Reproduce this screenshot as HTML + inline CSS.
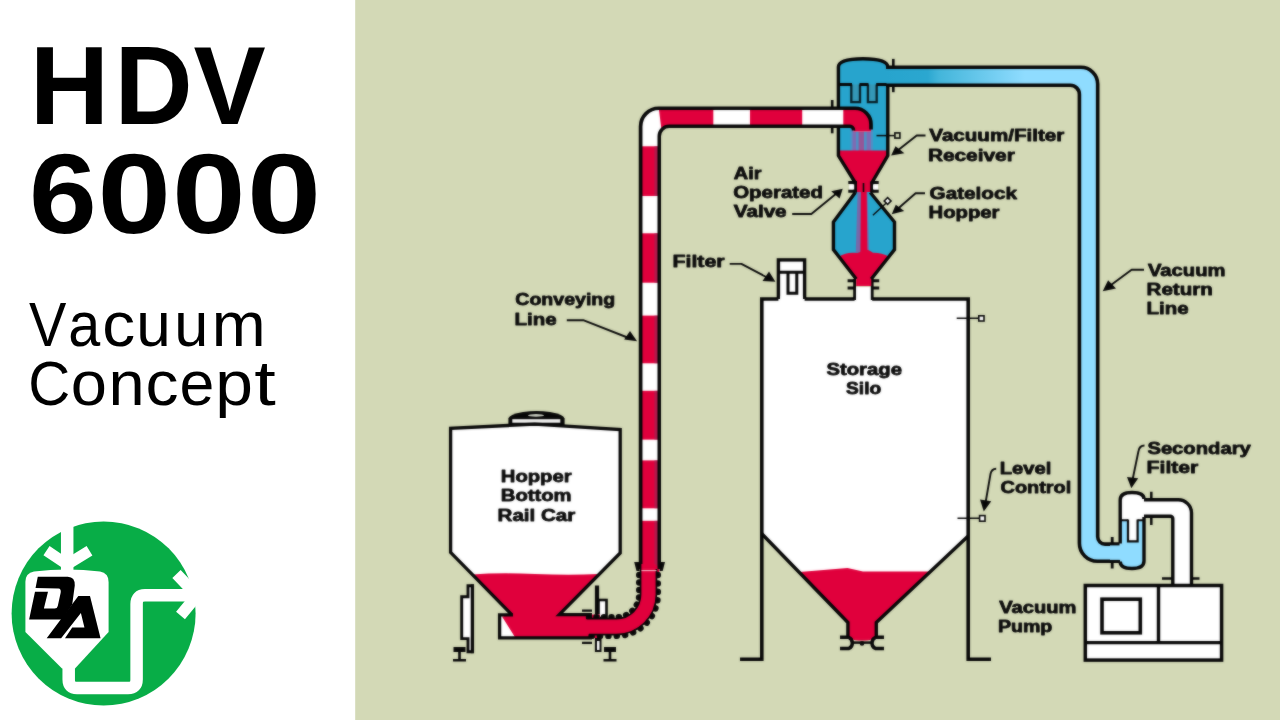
<!DOCTYPE html>
<html><head><meta charset="utf-8"><title>HDV 6000 Vacuum Concept</title>
<style>
html,body{margin:0;padding:0;background:#d3d9b6;overflow:hidden}
svg{display:block}
text{font-family:"Liberation Sans",sans-serif}
.lb{font-weight:bold;font-size:17.2px;fill:#0b0b0b;stroke:#0b0b0b;stroke-width:.8px;stroke-linejoin:round}
.k{stroke:#060606;fill:none}
</style></head><body>
<svg width="1280" height="720" viewBox="0 0 1280 720">
<defs>
<linearGradient id="rg" gradientUnits="userSpaceOnUse" x1="886" y1="0" x2="1025" y2="0">
<stop offset="0" stop-color="#27a4cd"/><stop offset=".3" stop-color="#2ba7d0"/><stop offset=".38" stop-color="#43b5da"/><stop offset="1" stop-color="#8fdcff"/>
</linearGradient>
<filter id="soft" filterUnits="userSpaceOnUse" x="356" y="0" width="924" height="720" color-interpolation-filters="sRGB"><feGaussianBlur stdDeviation="0.8" result="b"/><feComposite in="SourceGraphic" in2="b" operator="arithmetic" k1="0" k2="0.5" k3="0.5" k4="0"/></filter>
</defs>
<rect x="0" y="0" width="1280" height="720" fill="#d3d9b6"/>
<rect x="0" y="0" width="355.2" height="720" fill="#ffffff"/>

<!-- TITLE -->
<g id="title" fill="#000">
<g font-weight="bold" font-size="111.2">
<text transform="translate(29.75,123.9) scale(.989,1)">H</text>
<text transform="translate(114.46,123.9) scale(.974,1)">D</text>
<text transform="translate(193.5,123.9) scale(.974,1)">V</text>
</g>
<g font-weight="bold" font-size="112.25">
<text transform="translate(28.9,233.4) scale(1.086,1)">6</text>
<text transform="translate(97.5,233.4) scale(1.178,1)">0</text>
<text transform="translate(172,233.4) scale(1.18,1)">0</text>
<text transform="translate(247,233.4) scale(1.187,1)">0</text>
</g>
<g font-size="63.5">
<text transform="translate(29.02,346.1) scale(0.882,1)">V</text>
<text transform="translate(68.31,346.1) scale(0.905,1)">a</text>
<text transform="translate(102.14,346.1) scale(1.036,1)">c</text>
<text transform="translate(136.16,346.1) scale(0.978,1)">u</text>
<text transform="translate(174.32,346.1) scale(0.963,1)">u</text>
<text transform="translate(211.79,346.1) scale(1.019,1)">m</text>
<text transform="translate(28.20,405.2) scale(0.915,1)">C</text>
<text transform="translate(70.70,405.2) scale(1.024,1)">o</text>
<text transform="translate(108.58,405.2) scale(1.023,1)">n</text>
<text transform="translate(145.53,405.2) scale(1.040,1)">c</text>
<text transform="translate(179.58,405.2) scale(0.986,1)">e</text>
<text transform="translate(215.19,405.2) scale(1.067,1)">p</text>
<text transform="translate(254.3,405.2) scale(1.22,1)">t</text>
</g>
</g>

<!-- LOGO -->
<g id="logo">
<circle cx="103.6" cy="613.4" r="92" fill="#08ad47"/>
<g fill="none" stroke="#fff">
<path d="M67.2,510 V570" stroke-width="12.5"/>
<path d="M46.5,550.7 L67.2,564.5 L89.5,550.7" stroke-width="11" stroke-linejoin="miter"/>
<path d="M68.7,660 V679.5 Q68.7,688 77,688 H128 Q136.6,688 136.6,679.5 V604 Q136.6,595.3 145,595.3 H196" stroke-width="12.5"/>
<path d="M176.5,574 L197,595.5 L180.5,615.5" stroke-width="11.5"/>
</g>
<path d="M25.4,582 Q25.4,573 34,571.5 Q67,567.5 100,571.5 Q108.6,573 108.6,582 V632 L75,668.5 H62 L25.4,632 Z" fill="#fff"/>
<g transform="translate(20,565) scale(0.11111)" fill="#000">
<path d="M160,105 L430,105 Q497,107 493,185 L470,355 L380,490 L82,490 L135,240 L252,240 L215,392 L312,392 Q335,390 340,368 L366,250 Q372,214 346,212 L140,207 Z"/>
<path d="M240,660 L525,280 L630,280 L725,660 L405,660 L470,562 L580,562 L548,432 L370,660 Z"/>
</g>
</g>

<!-- DIAGRAM -->
<g id="diagram" filter="url(#soft)">
<!-- ===== RAIL CAR ===== -->
<g id="railcar">
<!-- stands -->
<g class="k" stroke-width="2.6">
<path d="M472.4,585.7 H468 V596.8 H461.7 V638.6 H468 V651.8 H472.4 Z" fill="#fff" stroke-width="2.9" stroke-linejoin="miter"/>
<path d="M472.4,584.3 V653.2" stroke-width="3.3"/>
<path d="M453.5,649.5 H465.5" stroke-width="5"/>
<path d="M459.5,650 V660 M453,660.3 H466" stroke-width="2.6"/>
</g>
<g class="k" stroke-width="2.6">
<path d="M597,585.5 V652" stroke-width="4.2"/>
<rect x="598.5" y="600" width="8" height="18" fill="#fff"/>
<path d="M582,610.7 H592 M582,642.8 H592" stroke-width="2.2"/>
<rect x="596" y="640" width="4.5" height="11" fill="#fff" stroke-width="2"/>
<path d="M604,649.5 H616" stroke-width="5"/>
<path d="M610,650 V660 M603.5,660.3 H616.5" stroke-width="2.6"/>
</g>
<!-- hatch -->
<path d="M508.4,427 V418.6 Q509.5,414.2 523,412 Q536.5,410 550,412 Q563.5,414.2 564.6,418.6 V427 Z" fill="#060606"/>
<rect x="512.3" y="419.2" width="48" height="3.5" fill="#f4f4f2"/>
<ellipse cx="536" cy="415.4" rx="8" ry="1.3" fill="#c9ccc0"/>
<!-- body -->
<path d="M450.6,428.3 L534.7,424.2 L620.2,429.5 V553 L559.3,614.6 H600 V638 H499.6 V614.6 H511.7 L450.6,552.4 Z" fill="#fff"/>
<path d="M472,574.5 Q500,572.5 535,574 T598.5,574 L559.3,614.6 H600 V638 H515.5 L502,616.5 L511.7,614.6 Z" fill="#e0003c"/>
<path class="k" stroke-width="3.3" stroke-linejoin="miter" d="M511.7,614.6 L450.6,552.4 V428.3 L534.7,424.2 L620.2,429.5 V553 L559.3,614.6 H592"/>
<path class="k" stroke-width="3.3" d="M513,614.8 H499.6 V637.9 H592"/>
</g>
<!-- ===== SILO ===== -->
<g id="silo">
<!-- filter box -->
<rect x="778.4" y="259.9" width="26.2" height="42" fill="#fff" stroke="#060606" stroke-width="3.4"/>
<path class="k" stroke-width="3" d="M780,272.2 H803 M788,272 V293.3 H796.8 V272"/>
<!-- body -->
<path d="M761.8,299 H968.2 V536 L876.3,622.5 V640 H847.9 V622.5 L761.8,533.7 Z" fill="#fff"/>
<rect x="780.2" y="296" width="22.6" height="6" fill="#fff"/>
<!-- inlet neck -->
<rect x="855" y="287" width="17" height="15" fill="#fff"/>
<!-- red -->
<path d="M799.5,572 L847.5,568 L863,571.5 L930.5,571.5 L876.3,622.5 V634 Q876.3,640.6 862,640.6 Q847.9,640.6 847.9,634 V622.5 Z" fill="#e0003c"/>
<!-- outline -->
<path class="k" stroke-width="3.6" stroke-linejoin="miter" d="M740,659.3 H761.8 V299 H778.4 M804.6,299 H854.6 M872.2,299 H968.2 V659.3 H991"/>
<path class="k" stroke-width="3.4" stroke-linejoin="miter" d="M761.8,533.7 L847.9,622.5 V637 M968.2,536 L876.3,622.5 V637"/>
<path class="k" stroke-width="2.8" d="M854.6,279 V300 M872.2,279 V300"/>
<path class="k" stroke-width="3" d="M847.6,280.8 H856 M871,280.8 H879.2 M847.6,288 H856 M871,288 H879.2"/>
<!-- bottom valve -->
<path class="k" stroke-width="3.5" d="M840,637.3 H848.5 C853.5,639 853.5,646.8 849,648.4 H840 M884,637.3 H875.8 C870.8,639 870.8,646.8 875.3,648.4 H884"/>
<path class="k" stroke-width="2.5" d="M853,642.6 H871.5"/>
<circle cx="862" cy="643.4" r="2.3" fill="#060606"/>
<!-- level probes -->
<path class="k" stroke-width="1.5" d="M956.7,318.3 H978 M957.5,518.3 H979"/>
<rect x="978.8" y="315.8" width="5.2" height="5.2" fill="#fff" stroke="#060606" stroke-width="1.6"/>
<rect x="979.6" y="515.6" width="5.4" height="5.6" fill="#fff" stroke="#060606" stroke-width="1.6"/>
</g>
<!-- ===== RECEIVER ===== -->
<g id="receiver">
<path d="M838.4,67 Q838.4,59 863,58.8 Q887.8,59 887.8,67 V155.6 L872.3,182 V192 H854.8 V182 L838.4,155.6 Z" fill="#27a4cd"/>
<!-- filter tubes -->
<path d="M851.3,84.5 V102.2 H860 V84.5 M867.9,84.5 V102.2 H876.7 V84.5" fill="#3497b6" stroke="#062029" stroke-width="2.3"/>
<path class="k" stroke-width="2.8" d="M839,84.5 H852 M859.5,84.5 H868.5 M876.2,84.5 H888"/>
<!-- purple stream -->
<rect x="850.5" y="129" width="22.5" height="22" fill="#6f7fc0" opacity=".55"/>
<g opacity=".8">
<rect x="852.5" y="130" width="3.6" height="21" fill="#8a62ae"/>
<rect x="858.6" y="128" width="5.4" height="23" fill="#a8488c"/>
<rect x="866.6" y="130" width="4.2" height="21" fill="#8a62ae"/>
</g>
<!-- red pile -->
<path d="M839.5,150.5 H886.8 V155.6 L872.3,182 V192 H854.8 V182 L839.5,155.6 Z" fill="#e0003c"/>
<!-- outline -->
<path class="k" stroke-width="3.4" stroke-linejoin="round" d="M887.8,67 Q887.8,59 863,58.8 Q838.4,59 838.4,67 V155.6 L854.8,182 V192 M887.8,86 V155.6 L872.3,182 V192"/>
<!-- probe -->
<path class="k" stroke-width="1.5" d="M876.5,135.6 H894.5"/>
<rect x="894.9" y="132.9" width="5" height="5.2" fill="#d3d9b6" stroke="#060606" stroke-width="1.6"/>
</g>
<!-- ===== GATELOCK ===== -->
<g id="gatelock">
<path d="M855.3,192 L833.4,222 V249.6 L856.2,279 H871.3 L894.5,249.6 V222 L870.3,192 Z" fill="#27a4cd"/>
<!-- stream -->
<path d="M857.6,192 L855.8,252 H869 L867.5,192 Z" fill="#8a5aa0" opacity=".8"/>
<path d="M861,186 L860.4,252 H867.4 L866.6,186 Z" fill="#e0003c"/>
<path d="M838.5,257 Q846,252.5 853,252.8 T862.8,250.5 T873,252.8 Q881,252.5 889.5,257 L871.3,279 V286 H856.2 V279 Z" fill="#e0003c"/>
<!-- probe -->
<path class="k" stroke-width="1.4" d="M872.9,215.2 L886,203.2"/>
<rect x="-2.4" y="-2.4" width="4.8" height="4.8" transform="translate(887.6,201) rotate(45)" fill="#fff" stroke="#060606" stroke-width="1.6"/>
<path class="k" stroke-width="3.4" stroke-linejoin="miter" d="M855.3,192.5 L833.4,222 V249.6 L856.2,279 M870.3,192.5 L894.5,222 V249.6 L871.3,279"/>
<!-- valve flanges -->
<rect x="849.3" y="184.3" width="5.2" height="5.4" fill="#fff"/><rect x="873" y="184.3" width="5" height="5.4" fill="#fff"/>
<path class="k" stroke-width="3" d="M848.3,182.6 H857 M870.6,182.6 H878.7 M848.3,191.2 H857 M870.6,191.2 H878.7"/>
<path class="k" stroke-width="2.4" d="M855.6,182 V192 M871.6,182 V192"/>
<path class="k" stroke-width="1.6" d="M863.5,183 V192"/>
</g>
<!-- ===== CONVEYING LINE ===== -->
<g id="convey">
<clipPath id="ccp"><path d="M640.6,572 V126.45 A18.2,18.2 0 0 1 658.8,108.25 H855 A16,16 0 0 1 871,124.25 V131.5 H853.5 V129.85 A3.5,3.5 0 0 0 850,126.35 H669.25 A10,10 0 0 0 659.25,136.35 V572 Z"/></clipPath>
<path d="M832.2,100 V133.3" stroke="#060606" stroke-width="2.6" fill="none"/>
<g clip-path="url(#ccp)">
<rect x="636" y="100" width="240" height="475" fill="#fff"/>
<g fill="#e0003c">
<rect x="636" y="146.3" width="30" height="49.7"/>
<rect x="636" y="233.3" width="30" height="49.4"/>
<rect x="636" y="315.6" width="30" height="47.7"/>
<rect x="636" y="390.8" width="30" height="48.8"/>
<rect x="636" y="460.4" width="30" height="47.9"/>
<rect x="636" y="520.8" width="30" height="55"/>
<polygon points="658.2,104 713.3,104 713.3,132 661.8,132"/>
<rect x="750" y="104" width="52.2" height="28"/>
<rect x="843.3" y="104" width="40" height="30"/>
</g>
<g fill="#9c2452" fill-opacity=".7">
<rect x="654.4" y="146.3" width="4" height="49.7"/>
<rect x="654.4" y="233.3" width="4" height="49.4"/>
<rect x="654.4" y="315.6" width="4" height="47.7"/>
<rect x="654.4" y="390.8" width="4" height="48.8"/>
<rect x="654.4" y="460.4" width="4" height="47.9"/>
<rect x="654.4" y="520.8" width="4" height="45"/>
</g>
</g>
<path d="M640.6,569 V126.45 A18.2,18.2 0 0 1 658.8,108.25 H855 A16,16 0 0 1 871,124.25 V129.5" fill="none" stroke="#060606" stroke-width="3.7"/>
<path d="M659.25,569 V136.35 A10,10 0 0 1 669.25,126.35 H850 A3.5,3.5 0 0 1 853.5,129.85 V130.5" fill="none" stroke="#060606" stroke-width="3.5"/>
</g>
<!-- ===== RETURN LINE ===== -->
<g id="return" fill="none">
<path d="M893.3,58.9 V92.2" stroke="#060606" stroke-width="2.6"/>
<path d="M886.5,67.2 H1080.8 A16.9,16.9 0 0 1 1097.7,84.1 V536.8 A7.3,7.3 0 0 0 1105,544.1 H1123 V561.3 H1097.4 A18,18 0 0 1 1079.4,543.3 V94.4 A9.2,9.2 0 0 0 1070.2,85.2 H886.5 Z" fill="url(#rg)"/>
<path d="M886,67.2 H1080.8 A16.9,16.9 0 0 1 1097.7,84.1 V536.8 A7.3,7.3 0 0 0 1105,544.1 H1119.5" stroke="#060606" stroke-width="3.6"/>
<path d="M886,85.2 H1070.2 A9.2,9.2 0 0 1 1079.4,94.4 V543.3 A18,18 0 0 0 1097.4,561.3 H1121.5" stroke="#060606" stroke-width="3.6"/>
<path d="M1112.2,537 V543 M1112.2,562.5 V568.4" stroke="#060606" stroke-width="2.8"/>
</g>
<!-- ===== SECONDARY FILTER ===== -->
<g id="secfilter">
<path d="M1120.2,500 Q1120.2,492.5 1132,492.5 Q1144,492.5 1144,500 V561 Q1144,568.5 1132,568.5 Q1120.2,568.5 1120.2,561 Z" fill="#fff"/>
<path d="M1120.2,521 H1144 V561 Q1144,568.5 1132,568.5 Q1120.2,568.5 1120.2,561 Z" fill="#8fdcff"/>
<rect x="1110" y="545.4" width="14" height="14.4" fill="#8fdcff"/>
<path d="M1128,519.5 V541.3 H1137.6 V519.5" fill="#fff" stroke="#060606" stroke-width="2.2"/>
<path class="k" stroke-width="2" d="M1121,520.3 H1128 M1137.6,520.3 H1143"/>
<path class="k" stroke-width="3.4" d="M1120.2,543.5 V500 Q1120.2,492.5 1132,492.5 Q1144,492.5 1144,499 M1144,517 V561 Q1144,568.5 1132,568.5 Q1120.2,568.5 1120.2,561.5"/>
<!-- white pipe to pump -->
<path d="M1151.3,491.7 V525 M1162,578.4 H1199.5" class="k" stroke-width="2.5"/>
<path d="M1140,499.7 H1178.2 A13.3,13.3 0 0 1 1191.5,513 V584 H1172.8 V518.7 A2.5,2.5 0 0 0 1170.3,516.2 H1140 Z" fill="#fff"/>
<path d="M1144,499.7 H1178.2 A13.3,13.3 0 0 1 1191.5,513 V585" fill="none" stroke="#060606" stroke-width="3.4"/>
<path d="M1144,516.2 H1170.3 A2.5,2.5 0 0 1 1172.8,518.7 V585" fill="none" stroke="#060606" stroke-width="3.4"/>
</g>
<!-- ===== PUMP ===== -->
<g id="pump">
<rect x="1085.3" y="585.5" width="136.3" height="74.6" fill="#fff" stroke="#060606" stroke-width="3.5"/>
<path class="k" stroke-width="3.4" d="M1158.5,585.5 V642.6 M1085.3,642.6 H1221.6"/>
<rect x="1102" y="599.2" width="38.3" height="33.6" fill="#fff" stroke="#060606" stroke-width="3.6"/>
</g>
<!-- ===== HOSE ===== -->
<g id="hose" fill="none">
<path d="M634.2,562 H639.6 V571 L636.5,571 Z M665,562 H659.6 V571 L662.7,571 Z" fill="#060606"/>
<path d="M639.2,575 V594.6 A22.7,22.7 0 0 1 616.5,617.3 H589" stroke="#060606" stroke-width="6.4" stroke-linecap="round" stroke-dasharray="0.1 7.4"/>
<path d="M657.8,575 V594.6 A41.3,41.3 0 0 1 616.5,635.9 H589" stroke="#060606" stroke-width="6.4" stroke-linecap="round" stroke-dasharray="0.1 8.3"/>
<path d="M648.5,569 V594.6 A32,32 0 0 1 616.5,626.6 H589" stroke="#060606" stroke-width="17.6"/>
<path d="M648.5,564 V594.6 A32,32 0 0 1 616.5,626.6 H586" stroke="#e0003c" stroke-width="14.2"/>
<path d="M641.5,570.6 H656.5" stroke="#f7b9c6" stroke-width="1.1"/>
</g>
<!-- ===== LABELS ===== -->
<g id="labels">
<text class="lb" x="500.8" y="481.7" textLength="70.8" lengthAdjust="spacingAndGlyphs">Hopper</text>
<text class="lb" x="500.8" y="501.2" textLength="70.8" lengthAdjust="spacingAndGlyphs">Bottom</text>
<text class="lb" x="497.6" y="520.7" textLength="77.7" lengthAdjust="spacingAndGlyphs">Rail Car</text>
<text class="lb" x="826.5" y="374.5" textLength="75.4" lengthAdjust="spacingAndGlyphs">Storage</text>
<text class="lb" x="846.1" y="393.9" textLength="35.1" lengthAdjust="spacingAndGlyphs">Silo</text>
<text class="lb" x="515.3" y="305.3" textLength="99.9" lengthAdjust="spacingAndGlyphs">Conveying</text>
<text class="lb" x="514.5" y="324.5" textLength="42.1" lengthAdjust="spacingAndGlyphs">Line</text>
<text class="lb" x="672.5" y="267.1" textLength="52.1" lengthAdjust="spacingAndGlyphs">Filter</text>
<text class="lb" x="733.8" y="178.5" textLength="27.6" lengthAdjust="spacingAndGlyphs">Air</text>
<text class="lb" x="733.2" y="197.9" textLength="89.8" lengthAdjust="spacingAndGlyphs">Operated</text>
<text class="lb" x="733.8" y="217.2" textLength="52.8" lengthAdjust="spacingAndGlyphs">Valve</text>
<text class="lb" x="929.3" y="141.2" textLength="135.0" lengthAdjust="spacingAndGlyphs">Vacuum/Filter</text>
<text class="lb" x="927.9" y="160.5" textLength="86.9" lengthAdjust="spacingAndGlyphs">Receiver</text>
<text class="lb" x="929.6" y="199.4" textLength="87.4" lengthAdjust="spacingAndGlyphs">Gatelock</text>
<text class="lb" x="928.5" y="218.1" textLength="71" lengthAdjust="spacingAndGlyphs">Hopper</text>
<text class="lb" x="1148.0" y="276.0" textLength="77.5" lengthAdjust="spacingAndGlyphs">Vacuum</text>
<text class="lb" x="1146.6" y="295.1" textLength="66.2" lengthAdjust="spacingAndGlyphs">Return</text>
<text class="lb" x="1146.6" y="314.3" textLength="42.0" lengthAdjust="spacingAndGlyphs">Line</text>
<text class="lb" x="1147.4" y="453.8" textLength="103.4" lengthAdjust="spacingAndGlyphs">Secondary</text>
<text class="lb" x="1146.6" y="473.1" textLength="51.7" lengthAdjust="spacingAndGlyphs">Filter</text>
<text class="lb" x="999.8" y="473.8" textLength="51.5" lengthAdjust="spacingAndGlyphs">Level</text>
<text class="lb" x="1000.6" y="493.1" textLength="70.7" lengthAdjust="spacingAndGlyphs">Control</text>
<text class="lb" x="999.3" y="613.1" textLength="77.2" lengthAdjust="spacingAndGlyphs">Vacuum</text>
<text class="lb" x="997.9" y="632.1" textLength="54.4" lengthAdjust="spacingAndGlyphs">Pump</text>
<g class="k" stroke-width="1.9" stroke-linejoin="round">
<path d="M566.8,320.2 H583.2 L630,338.5"/>
<path d="M729.7,263.9 H741.4 L769,278.5"/>
<path d="M792.2,214 H811.3 L837,193"/>
<path d="M925.5,135.5 H916.7 L897,151"/>
<path d="M925,193.3 H915.6 L897,209.5"/>
<path d="M1144,269.7 H1131.6 L1109,286.5"/>
<path d="M1144.5,445.5 Q1139.5,445.5 1138.5,451 L1132.5,480"/>
<path d="M996.2,468.7 Q991.5,468.7 990.5,474 L985.5,503"/>
</g>
<g fill="#060606">
<polygon points="637.1,341.2 624.2,339.6 630,331"/>
<polygon points="775.4,281.7 762.5,281 769,271.6"/>
<polygon points="842.7,188.7 831.2,191.2 839.6,198.5"/>
<polygon points="891.1,155.5 895.5,146.2 904.4,153.3"/>
<polygon points="891.7,214.2 895.8,204.8 904.2,211"/>
<polygon points="1102.7,291.2 1108.1,280.3 1116,288.4"/>
<polygon points="1131.3,488.3 1127,477 1138.2,478.3"/>
<polygon points="983.8,511.4 980,499.5 991.2,501.2"/>
</g>
</g>
</g>
</svg>
</body></html>
